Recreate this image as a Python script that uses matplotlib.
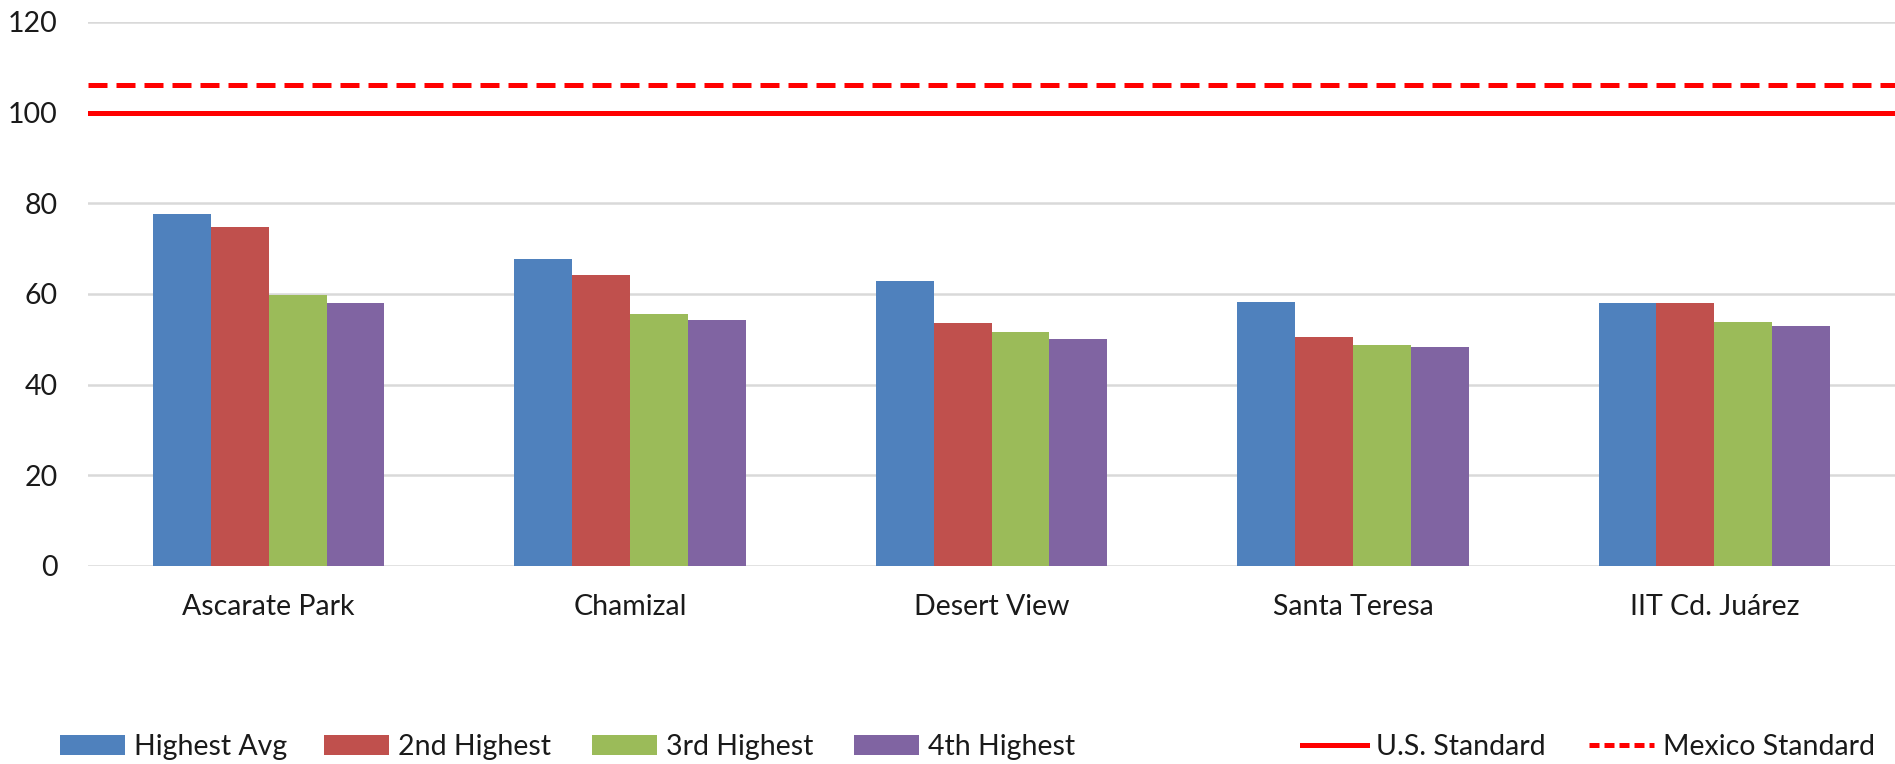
import matplotlib
matplotlib.use("Agg")
import matplotlib.pyplot as plt
import numpy as np
from matplotlib.patches import Patch
from matplotlib.lines import Line2D

categories = ["Ascarate Park", "Chamizal", "Desert View", "Santa Teresa", "IIT Cd. Juárez"]
series_names = ["Highest Avg", "2nd Highest", "3rd Highest", "4th Highest"]
highest_avg = [77.7, 67.7, 62.9, 58.3, 58.0]
second_highest = [74.8, 64.3, 53.5, 50.6, 58.0]
third_highest = [59.7, 55.5, 51.7, 48.7, 53.8]
fourth_highest = [58.0, 54.3, 50.0, 48.4, 52.9]
us_standard = 100
mexico_standard = 106
y_ticks = [0, 20, 40, 60, 80, 100, 120]

colors = ["#4F81BD", "#C0504D", "#9BBB59", "#8064A2"]
red = "#FF0000"

plt.rcParams['font.family'] = ['Lato', 'DejaVu Sans']
fs = 20.5

fig = plt.figure(figsize=(18.95, 7.64), dpi=100)
ax = fig.add_axes([88/1895, 1-566/764, 1-88/1895, (566-22)/764])

x = np.arange(len(categories)) + 0.5
bw = 0.16
all_series = [highest_avg, second_highest, third_highest, fourth_highest]
for i, vals in enumerate(all_series):
    ax.bar(x + (i - 1.5) * bw, vals, width=bw, color=colors[i], zorder=3,
           edgecolor="none")

ax.axhline(us_standard, color=red, lw=3.6, zorder=4)
ax.axhline(mexico_standard, color=red, lw=3.6, zorder=4, dashes=(3.8, 1.8))

ax.set_xlim(0, len(categories))
ax.set_ylim(0, 120)
ax.set_yticks(y_ticks)
ax.set_yticklabels([str(v) for v in y_ticks], fontsize=fs, color="#1a1a1a")
ax.set_xticks(x)
ax.set_xticklabels(categories, fontsize=fs, color="#1a1a1a")
ax.tick_params(axis='y', length=0, pad=22)
ax.tick_params(axis='x', length=0, pad=20)
ax.grid(axis='y', color="#D9D9D9", lw=1.8, zorder=0)
for s in ax.spines.values():
    s.set_visible(False)

# legends
ly = 17/764
pos_bars = [60, 324, 592, 854]
for i, name in enumerate(series_names):
    fig.legend(handles=[Patch(facecolor=colors[i], edgecolor='none')], labels=[name],
               loc='center left', bbox_to_anchor=(pos_bars[i]/1895, ly),
               frameon=False, fontsize=fs, handlelength=2.3, handleheight=0.7,
               handletextpad=0.3, borderpad=0, borderaxespad=0,
               labelcolor="#1a1a1a")
fig.legend(handles=[Line2D([], [], color=red, lw=3.6)], labels=["U.S. Standard"],
           loc='center left', bbox_to_anchor=(1302/1895, ly), frameon=False,
           fontsize=fs, handlelength=2.3, handletextpad=0.3, borderpad=0, borderaxespad=0,
           labelcolor="#1a1a1a")
fig.legend(handles=[Line2D([], [], color=red, lw=3.6, dashes=(2.0, 1.0))], labels=["Mexico Standard"],
           loc='center left', bbox_to_anchor=(1589/1895, ly), frameon=False,
           fontsize=fs, handlelength=2.3, handletextpad=0.3, borderpad=0, borderaxespad=0,
           labelcolor="#1a1a1a")

fig.savefig("out.png", dpi=100)
